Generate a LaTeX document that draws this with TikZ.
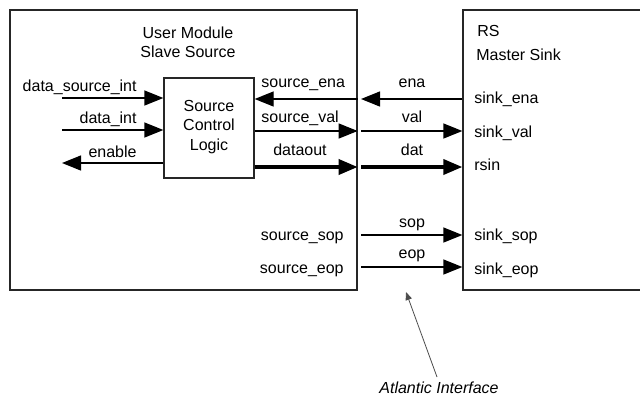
\documentclass[tikz,border=0pt]{standalone}
\usepackage{fontspec}
\setmainfont{Liberation Sans}
\usetikzlibrary{arrows.meta,fit}
\begin{document}
\begin{tikzpicture}[x=0.5pt,y=-0.5pt,
  box/.style={draw=black!85, line width=0.65pt, inner sep=0pt},
  sig/.style={line width=0.65pt, -{Triangle[length=9.5pt,width=7.5pt]}},
  bus/.style={line width=1.8pt, -{Triangle[length=9.5pt,width=7.5pt]}},
  lbl/.style={inner sep=0pt, font=\fontsize{8}{9.5}\selectfont},
  note/.style={draw=black!70, line width=0.4pt, -{Triangle[length=4pt,width=3.2pt]}},
  ]
\useasboundingbox (0,0) rectangle (640,397);
% boxes
\node[box, fit={(10,10) (357,290)}] (lbox) {};
\node[box, fit={(463,10) (700,290)}] (rbox) {};
\node[box, fit={(164,78) (254,178)}] (scl) {};
% titles
\node[lbl, anchor=base] (t1) at (188,38) {User Module};
\node[lbl, anchor=base] (t2) at (188,57) {Slave Source};
\node[lbl, anchor=base] (s1) at (209,111) {Source};
\node[lbl, anchor=base] (s2) at (209,130) {Control};
\node[lbl, anchor=base] (s3) at (209,150) {Logic};
\node[lbl, anchor=base west] (r1) at (477,36) {RS};
\node[lbl, anchor=base west] (r2) at (476,60) {Master Sink};
% y-levels
\coordinate (yA) at (0,98);
\coordinate (yB) at (0,130);
\coordinate (yC) at (0,163);
\coordinate (yE) at (0,99);
\coordinate (yV) at (0,131);
\coordinate (yD) at (0,167);
\coordinate (yS) at (0,235);
\coordinate (yO) at (0,267);
% free ends on the left
\coordinate (inA) at (62,98);
\coordinate (inB) at (62,130);
\coordinate (outC) at (62,163);
% gap column start
\coordinate (gx) at (361,0);
% left-side signals
\node[lbl, anchor=base east] (l1) at (137,91) {data\_source\_int};
\node[lbl, anchor=base east] (l2) at (137,123) {data\_int};
\node[lbl, anchor=base east] (l3) at (137,157) {enable};
\draw[sig] (inA) -- (inA -| scl.west);
\draw[sig] (inB) -- (inB -| scl.west);
\draw[sig] (scl.west |- outC) -- (outC);
% inner signals
\node[lbl, anchor=base west] (m1) at (261,87) {source\_ena};
\node[lbl, anchor=base west] (m2) at (261,122) {source\_val};
\node[lbl, anchor=base] (m3) at (300,155) {dataout};
\node[lbl, anchor=base east] (m4) at (344,240) {source\_sop};
\node[lbl, anchor=base east] (m5) at (344,273) {source\_eop};
\draw[sig] (lbox.east |- yE) -- (scl.east |- yE);
\draw[sig] (scl.east |- yV) -- (lbox.east |- yV);
\draw[bus] (scl.east |- yD) -- (lbox.east |- yD);
% interface signals
\node[lbl, anchor=base] (g1) at (412,87) {ena};
\node[lbl, anchor=base] (g2) at (412,122) {val};
\node[lbl, anchor=base] (g3) at (412,155) {dat};
\node[lbl, anchor=base] (g4) at (412,227) {sop};
\node[lbl, anchor=base] (g5) at (412,258) {eop};
\draw[sig] (rbox.west |- yE) -- (gx |- yE);
\draw[sig] (gx |- yV) -- (rbox.west |- yV);
\draw[bus] (gx |- yD) -- (rbox.west |- yD);
\draw[sig] (gx |- yS) -- (rbox.west |- yS);
\draw[sig] (gx |- yO) -- (rbox.west |- yO);
% sink ports
\node[lbl, anchor=base west] (p1) at (474,103) {sink\_ena};
\node[lbl, anchor=base west] (p2) at (474,137) {sink\_val};
\node[lbl, anchor=base west] (p3) at (474,170) {rsin};
\node[lbl, anchor=base west] (p4) at (474,240) {sink\_sop};
\node[lbl, anchor=base west] (p5) at (474,274) {sink\_eop};
% annotation
\node[lbl, anchor=base, font=\fontsize{8}{9.5}\selectfont\itshape] (atl) at (439,393) {Atlantic Interface};
\coordinate (atail) at (437,377);
\coordinate (atip) at (406,292);
\draw[note] (atail) -- (atip);
\end{tikzpicture}
\end{document}
